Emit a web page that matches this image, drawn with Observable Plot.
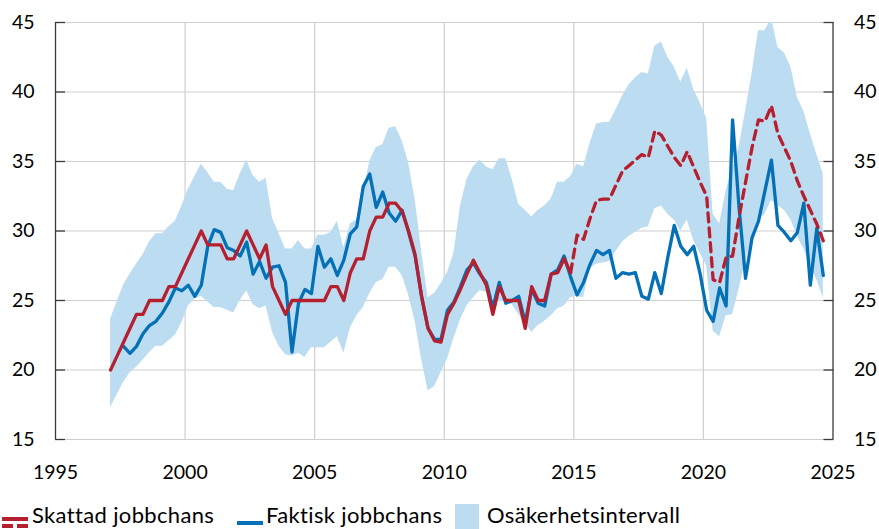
<!DOCTYPE html>
<html><head><meta charset="utf-8">
<script src="https://cdn.jsdelivr.net/npm/d3@7"></script>
<script src="https://cdn.jsdelivr.net/npm/@observablehq/plot@0.6"></script>
<style>
html,body{margin:0;padding:0;background:#fff;}
body{width:879px;height:529px;overflow:hidden;font-family:Lato,"Open Sans",sans-serif;position:relative;}
#chart{position:absolute;left:0;top:0;}
#legend{position:absolute;left:0;top:500px;width:879px;height:29px;font-size:22px;letter-spacing:0.35px;color:#000;white-space:nowrap;}
#legend .sw{position:absolute;}
#legend .tx{position:absolute;top:1px;line-height:28px;}
</style></head><body>
<div id="chart"></div>
<div id="legend"></div>
<script>
// Quarterly data, first quarter 1997Q1, last 2024Q3
const startYear = 1997;

const skattad = [
  20, 21, 22, 23,   24, 24, 25, 25,   25, 26, 26, 27,   28, 29, 30, 29,
  29, 29, 28, 28,   29, 30, 29, 28,   29, 26, 25, 24,   25, 25, 25, 25,
  25, 25, 26, 26,   25, 27, 28, 28,   30, 31, 31, 32,   32, 31.4, 30, 28.3,
  25.3, 23, 22.1, 22,   24, 24.8, 25.8, 26.9,   27.9, 27, 26.1, 24,   26, 25, 25, 25,
  23, 26, 25, 25,   26.9, 27, 28, 27,   29.7, 29.4, 30.9, 32.2,   32.3, 32.3, 33.3, 34.3,
  34.7, 35.1, 35.5, 35.3,   37.2, 36.9, 36.1, 35.3,   34.7, 35.7, 34.6, 33.5,   32.5, 26.5, 26.3, 28.1,
  28.2, 31, 33.5, 36,   38, 37.9, 39, 37,   36, 35, 33.6, 32.5,   31.5, 30.5, 29.3
];

const faktisk = [
  null, null, 21.7, 21.2,   21.7, 22.6, 23.2, 23.5,   24.1, 24.9, 25.9, 25.7,   26.1, 25.3, 26.1, 28.9,
  30.1, 29.9, 28.8, 28.6,   28.2, 29.2, 26.9, 27.8,   26.6, 27.4, 27.5, 26.3,   21.3, 24.8, 25.8, 25.5,
  28.9, 27.4, 28.0, 26.8,   27.9, 29.8, 30.3, 33.2,   34.1, 31.7, 32.8, 31.3,   30.7, 31.5, 29.9, 28.2,
  25.3, 23.0, 22.2, 22.2,   24.3, 24.9, 26.0, 27.2,   27.7, 26.9, 26.3, 24.5,   26.3, 24.8, 25.0, 25.3,
  23.4, 25.8, 24.8, 24.6,   26.9, 27.2, 28.2, 26.7,   25.4, 26.3, 27.6, 28.6,   28.3, 28.6, 26.6, 27.0,
  26.9, 27.0, 25.3, 25.1,   27.0, 25.5, 28.1, 30.4,   28.9, 28.3, 28.9, 26.9,   24.3, 23.5, 25.9, 24.6,
  38.0, 31.7, 26.6, 29.5,   30.7, 32.9, 35.1, 30.4,   29.9, 29.3, 29.9, 32.0,   26.1, 30.2, 26.8
];

const ovre = [
  23.65, 24.9, 26.1, 26.9,   27.6, 28.3, 29.2, 29.8,   29.8, 30.3, 30.7, 31.8,   33.0, 33.9, 34.8, 34.2,
  33.5, 33.5, 33.0, 32.9,   34.1, 35.1, 34.0, 33.5,   33.8, 30.9, 29.8, 28.7,   28.7, 29.3, 28.7, 28.7,
  29.7, 29.7, 29.9, 30.7,   28.8, 30.5, 30.8, 32.7,   35.0, 36.0, 36.2, 37.4,   37.5, 36.5, 34.9, 32.3,
  28.6, 25.2, 25.5, 26.2,   27.0, 28.4, 31.8, 33.7,   34.6, 35.1, 34.6, 34.4,   35.2, 35.2, 33.7, 31.9,
  31.5, 31.0, 31.5, 31.8,   32.3, 33.5, 33.5, 33.9,   34.8, 34.6, 36.3, 37.7,   37.8, 37.8, 38.7, 39.7,
  40.5, 41.0, 41.4, 41.3,   43.3, 43.6, 42.5, 41.8,   40.7, 41.7, 40.2, 39.2,   38.1, 31.2, 30.5, 32.9,
  34.5, 36.0, 38.6, 41.3,   44.4, 44.4, 45.3, 43.2,   42.8, 41.8, 39.6, 38.6,   37.0, 35.5, 34.1
];

const nedre = [
  17.3, 18.2, 19.1, 19.8,   20.2, 20.7, 21.25, 21.7,   21.7, 22.1, 22.5, 23.4,   24.6, 25.1, 25.3, 24.9,
  24.5, 24.5, 24.3, 24.1,   25.0, 25.7, 24.7, 24.4,   24.6, 22.7, 21.7, 21.1,   21.0, 21.2, 20.9, 21.6,
  21.6, 21.6, 22.0, 22.4,   21.2, 23.0, 23.9, 24.5,   25.5, 26.3, 26.5, 27.4,   27.4, 26.8, 25.4, 23.5,
  20.8, 18.5, 18.8, 19.8,   20.8, 22.3, 23.6, 24.6,   25.2, 25.7, 25.6, 25.2,   24.9, 25.0, 24.7, 24.0,
  23.4, 22.7, 23.2, 23.5,   23.9, 24.4, 24.6, 25.2,   25.3, 25.2, 27.3, 27.6,   27.7, 27.8, 28.5, 29.2,
  29.6, 29.9, 30.2, 30.3,   31.6, 31.8, 31.2, 30.8,   30.0, 30.8, 29.3, 28.4,   27.5, 22.8, 22.4, 23.9,
  24.0, 25.8, 27.8, 29.5,   30.8, 31.2, 32.2, 31.8,   31.5, 30.8, 29.6, 28.7,   27.5, 26.5, 25.2
];

// Index of 2014Q4, where the estimate switches from solid to dashed
const dashFrom = 71;

const yTicks = [15, 20, 25, 30, 35, 40, 45];
const xTicks = [1995, 2000, 2005, 2010, 2015, 2020, 2025];

const seriesNames = ["Skattad jobbchans", "Faktisk jobbchans", "Osäkerhetsintervall"];

const RED = "#b61f2e", BLUE = "#0470b6", BAND = "#bcdcf2", GRID = "#cfcfcf", AXIS = "#3a3a3a";

const rows = skattad.map((v, i) => ({
  x: startYear + i / 4 + 0.125,
  skattad: v,
  faktisk: faktisk[i],
  ovre: ovre[i],
  nedre: nedre[i]
}));

const chart = Plot.plot({
  width: 879,
  height: 500,
  marginLeft: 55,
  marginRight: 46.5,
  marginTop: 22,
  marginBottom: 61,
  style: {fontFamily: "Lato, 'Open Sans', sans-serif", fontSize: "19.5px", color: "#000", background: "#fff"},
  x: {domain: [1995, 2025], ticks: xTicks, label: null},
  y: {domain: [15, 45], ticks: yTicks, label: null},
  marks: [
    Plot.ruleY(yTicks, {stroke: GRID, strokeWidth: 1.2}),
    Plot.ruleX(xTicks.slice(1, -1), {stroke: GRID, strokeWidth: 1.2}),
    Plot.areaY(rows, {x: "x", y1: "nedre", y2: "ovre", fill: BAND, clip: true}),
    Plot.line(rows, {x: "x", y: "faktisk", stroke: BLUE, strokeWidth: 3.3, strokeLinejoin: "round"}),
    Plot.line(rows.slice(0, dashFrom + 1), {x: "x", y: "skattad", stroke: RED, strokeWidth: 3.3, strokeLinejoin: "round"}),
    Plot.line(rows.slice(dashFrom), {x: "x", y: "skattad", stroke: RED, strokeWidth: 3.3, strokeDasharray: "9,6", strokeLinejoin: "round"}),
    Plot.ruleX([xTicks[0], xTicks[xTicks.length - 1]], {stroke: AXIS, strokeWidth: 1.3}),
    Plot.axisY({anchor: "left", ticks: yTicks, tickSize: 0, tickPadding: 21, fill: "#000", label: null}),
    Plot.axisY({anchor: "right", ticks: yTicks, tickSize: 0, tickPadding: 21, fill: "#000", label: null}),
    Plot.axisY({anchor: "left", ticks: yTicks, tickSize: 10, dx: 10, fill: "none", stroke: AXIS, strokeWidth: 1.3, label: null}),
    Plot.axisY({anchor: "right", ticks: yTicks, tickSize: 10, dx: -10, fill: "none", stroke: AXIS, strokeWidth: 1.3, label: null}),
    Plot.axisX({anchor: "bottom", ticks: xTicks, tickSize: 0, tickPadding: 26, tickFormat: d => String(d), fill: "#000", label: null})
  ]
});
document.getElementById("chart").appendChild(chart);

// Legend
const legend = document.getElementById("legend");
const swatches = [
  `<svg width="28" height="16"><line x1="1" x2="27" y1="4" y2="4" stroke="${RED}" stroke-width="4"/><line x1="1" x2="27" y1="11" y2="11" stroke="${RED}" stroke-width="4" stroke-dasharray="11,4"/></svg>`,
  `<svg width="28" height="16"><line x1="1" x2="27" y1="8" y2="8" stroke="${BLUE}" stroke-width="4"/></svg>`,
  `<svg width="24" height="25"><rect x="0" y="0" width="24" height="25" fill="${BAND}"/></svg>`
];
const swatchPos = [[1, 9], [236, 9], [455, 4]];
const textPos = [32, 266, 487];
seriesNames.forEach((name, i) => {
  const sw = document.createElement("div");
  sw.className = "sw";
  sw.style.left = swatchPos[i][0] + "px";
  sw.style.top = swatchPos[i][1] + "px";
  sw.innerHTML = swatches[i];
  legend.appendChild(sw);
  const tx = document.createElement("div");
  tx.className = "tx";
  tx.style.left = textPos[i] + "px";
  tx.textContent = name;
  legend.appendChild(tx);
});
</script>
</body></html>
